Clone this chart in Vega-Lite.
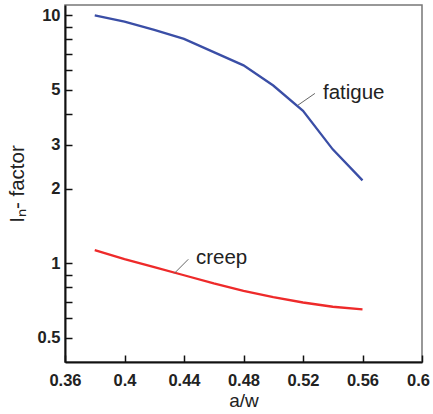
{
  "$schema": "https://vega.github.io/schema/vega-lite/v6.json",
  "width": 357,
  "height": 357,
  "autosize": "none",
  "padding": {"left": 65, "top": 5, "right": 11, "bottom": 52},
  "background": "white",
  "config": {
    "font": "Liberation Sans",
    "view": {"stroke": "#777777", "strokeWidth": 1.5},
    "axis": {
      "grid": false,
      "domainColor": "#111111",
      "domainWidth": 2,
      "tickColor": "#111111",
      "tickWidth": 1.5,
      "tickSize": -7,
      "labelFont": "Liberation Sans",
      "labelFontWeight": "bold",
      "labelFontSize": 16.5,
      "labelColor": "#222222",
      "titleFont": "Liberation Sans",
      "titleFontWeight": "normal",
      "titleFontSize": 19,
      "titleColor": "#222222"
    }
  },
  "datasets": {
    "curves": [
      {"aw": 0.38, "v": 10.0, "series": "fatigue"},
      {"aw": 0.40, "v": 9.43, "series": "fatigue"},
      {"aw": 0.42, "v": 8.73, "series": "fatigue"},
      {"aw": 0.44, "v": 8.03, "series": "fatigue"},
      {"aw": 0.46, "v": 7.10, "series": "fatigue"},
      {"aw": 0.48, "v": 6.28, "series": "fatigue"},
      {"aw": 0.50, "v": 5.21, "series": "fatigue"},
      {"aw": 0.52, "v": 4.12, "series": "fatigue"},
      {"aw": 0.54, "v": 2.88, "series": "fatigue"},
      {"aw": 0.56, "v": 2.16, "series": "fatigue"},
      {"aw": 0.38, "v": 1.13, "series": "creep"},
      {"aw": 0.40, "v": 1.04, "series": "creep"},
      {"aw": 0.42, "v": 0.965, "series": "creep"},
      {"aw": 0.44, "v": 0.895, "series": "creep"},
      {"aw": 0.46, "v": 0.83, "series": "creep"},
      {"aw": 0.48, "v": 0.775, "series": "creep"},
      {"aw": 0.50, "v": 0.73, "series": "creep"},
      {"aw": 0.52, "v": 0.695, "series": "creep"},
      {"aw": 0.54, "v": 0.668, "series": "creep"},
      {"aw": 0.56, "v": 0.652, "series": "creep"}
    ],
    "labels": [
      {"aw": 0.5334, "v": 4.84, "text": "fatigue"},
      {"aw": 0.448, "v": 1.05, "text": "creep"}
    ],
    "leaders": [
      {"aw": 0.5166, "v": 4.34, "aw2": 0.528, "v2": 4.84},
      {"aw": 0.4335, "v": 0.911, "aw2": 0.4429, "v2": 1.038}
    ]
  },
  "layer": [
    {
      "data": {"name": "curves"},
      "mark": {"type": "line", "strokeWidth": 2.3, "clip": true},
      "encoding": {
        "x": {
          "field": "aw", "type": "quantitative",
          "scale": {"domain": [0.36, 0.6], "nice": false, "zero": false},
          "axis": {
            "title": "a/w",
            "values": [0.36, 0.4, 0.44, 0.48, 0.52, 0.56, 0.6],
            "format": "~g",
            "labelPadding": 17,
            "labelFlush": false,
            "labelOffset": {"condition": {"test": "datum.value >= 0.59", "value": -4}, "value": 0},
            "titlePadding": 3
          }
        },
        "y": {
          "field": "v", "type": "quantitative",
          "scale": {"type": "log", "domain": [0.4, 11], "nice": false},
          "axis": {
            "title": "Iₙ- factor",
            "titleFontSize": 20.5,
            "values": [0.5, 0.6, 0.7, 0.8, 0.9, 1, 2, 3, 4, 5, 6, 7, 8, 9, 10],
            "labelExpr": "indexof([0.5, 1, 2, 3, 5, 10], datum.value) >= 0 ? '' + datum.value : ''",
            "labelOverlap": false,
            "labelPadding": 12,
            "titlePadding": 10
          }
        },
        "color": {
          "field": "series", "type": "nominal",
          "scale": {"domain": ["fatigue", "creep"], "range": ["#3a4ea6", "#ee2a2a"]},
          "legend": null
        }
      }
    },
    {
      "data": {"name": "leaders"},
      "mark": {"type": "rule", "color": "#666666", "strokeWidth": 1},
      "encoding": {
        "x": {"field": "aw", "type": "quantitative"},
        "y": {"field": "v", "type": "quantitative"},
        "x2": {"field": "aw2"},
        "y2": {"field": "v2"}
      }
    },
    {
      "data": {"name": "labels"},
      "mark": {"type": "text", "align": "left", "baseline": "middle", "fontSize": 20.5, "color": "#222222", "font": "Liberation Sans"},
      "encoding": {
        "x": {"field": "aw", "type": "quantitative"},
        "y": {"field": "v", "type": "quantitative"},
        "text": {"field": "text"}
      }
    }
  ]
}
